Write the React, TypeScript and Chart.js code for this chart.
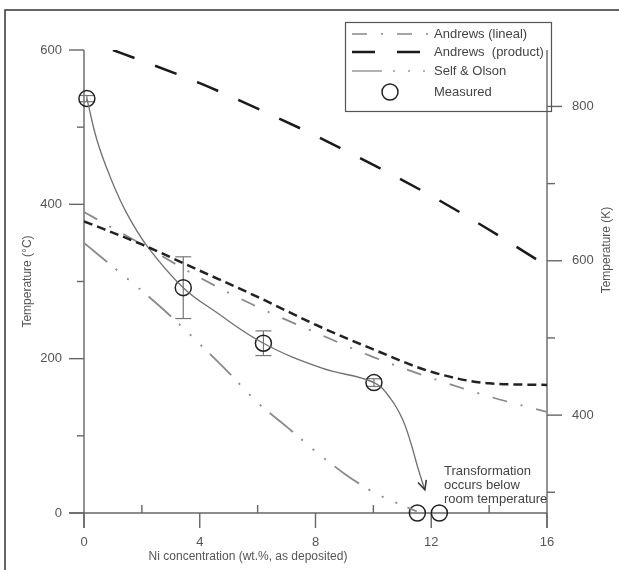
import React, { useEffect, useRef } from 'react';
import { Chart, registerables } from 'chart.js';

Chart.register(...registerables);

const FONT = '"Liberation Sans", Arial, Helvetica, sans-serif';

// ---- data ----
const curveX = [0, 2, 4, 6, 8, 10, 12, 14, 16];
const productX = [1, 2, 4, 6, 8, 10, 12, 14, 16];
const productY = [600, 586, 557, 524, 489, 451, 411, 367, 320];
const upperDashY = [378, 348, 314, 280, 244, 212, 183, 168, 166];
const linealY = [390, 348, 305, 267, 234, 202, 175, 151, 131];
const selfX = [0, 1, 2, 3, 4, 5, 6, 7, 8, 9, 10, 11, 11.5];
const selfY = [350, 319, 288, 255, 219, 182, 143, 112, 80, 51, 27, 10, 2];
const measX = [0.1, 3.43, 6.2, 10.02, 11.52, 12.28];
const measY = [537, 292, 220, 169, 0, 0];
const measErr = [4, 40, 16, 5, 0, 0];
const trendX = [0.1, 0.45, 0.9, 1.47, 2.2, 3.43, 4.5, 6.2, 8.2, 10.02, 10.6, 11.0, 11.3, 11.55, 11.78];
const trendY = [537, 483, 436, 389, 345, 292, 262, 220, 188, 169, 148, 122, 90, 57, 30];

const xMajor = [0, 4, 8, 12, 16];
const xMinor = [2, 6, 10, 14];
const cMajor = [0, 200, 400, 600];
const cMinor = [100, 300, 500];
const kMajor = [400, 600, 800];
const kMinor = [300, 500, 700];

const legendLabels = ['Andrews (lineal)', 'Andrews  (product)', 'Self & Olson', 'Measured'];
const noteLines = ['Transformation', 'occurs below', 'room temperature'];
const xTitle = 'Ni concentration (wt.%, as deposited)';
const yTitle = 'Temperature (\u00b0C)';
const kTitle = 'Temperature (K)';

const KELVIN = 273.15;

const zip = (xs: number[], ys: number[]) => xs.map((x, i) => ({ x, y: ys[i] }));

const DASH_PRODUCT = [23, 22];
const DASH_UPPER = [9, 5];
const DASH_LINEAL = [15, 14, 2, 14];
const DASH_SELF = [30, 11, 2, 13, 2, 13, 2, 11];

const decor = {
  id: 'decor',
  beforeDatasetsDraw(chart: any) {
    const { ctx, chartArea, scales } = chart;
    const { left, right, top, bottom } = chartArea;
    const x = scales.x, y = scales.y, k = scales.yK;
    ctx.save();
    ctx.strokeStyle = '#666';
    ctx.lineWidth = 1.4;
    const ln = (x1: number, y1: number, x2: number, y2: number) => {
      ctx.beginPath(); ctx.moveTo(x1, y1); ctx.lineTo(x2, y2); ctx.stroke();
    };
    ln(left - 15, bottom, right, bottom);
    ln(left, top, left, bottom + 15);
    ln(right, top, right, bottom + 15);
    xMajor.forEach(v => { const p = x.getPixelForValue(v); ln(p, bottom, p, bottom + 15); });
    xMinor.forEach(v => { const p = x.getPixelForValue(v); ln(p, bottom, p, bottom - 8); });
    cMajor.forEach(v => { const p = y.getPixelForValue(v); ln(left - 15, p, left, p); });
    cMinor.forEach(v => { const p = y.getPixelForValue(v); ln(left - 7, p, left, p); });
    kMajor.forEach(v => { const p = k.getPixelForValue(v); ln(right, p, right + 15, p); });
    kMinor.forEach(v => { const p = k.getPixelForValue(v); ln(right, p, right + 8, p); });

    ctx.strokeStyle = '#777';
    ctx.lineWidth = 1.2;
    measX.forEach((mx, i) => {
      const e = measErr[i];
      if (!e) return;
      const px = x.getPixelForValue(mx);
      const hi = y.getPixelForValue(measY[i] + e);
      const lo = y.getPixelForValue(measY[i] - e);
      ln(px, hi, px, lo);
      ln(px - 8, hi, px + 8, hi);
      ln(px - 8, lo, px + 8, lo);
    });
    ctx.restore();
  },
  afterDatasetsDraw(chart: any) {
    const { ctx, scales } = chart;
    const x = scales.x, y = scales.y;
    ctx.save();
    const n = trendX.length;
    const tx = x.getPixelForValue(trendX[n - 1]);
    const ty = y.getPixelForValue(trendY[n - 1]);
    const px = x.getPixelForValue(trendX[n - 2]);
    const py = y.getPixelForValue(trendY[n - 2]);
    const ang = Math.atan2(ty - py, tx - px);
    const L = 10, a = 0.45;
    ctx.strokeStyle = '#333';
    ctx.lineWidth = 1.5;
    ctx.beginPath();
    ctx.moveTo(tx - L * Math.cos(ang - a), ty - L * Math.sin(ang - a));
    ctx.lineTo(tx, ty);
    ctx.lineTo(tx - L * Math.cos(ang + a), ty - L * Math.sin(ang + a));
    ctx.stroke();

    ctx.strokeStyle = '#333';
    ctx.lineWidth = 1.5;
    ctx.beginPath();
    ctx.moveTo(5, 570); ctx.lineTo(5, 10); ctx.lineTo(619, 10);
    ctx.stroke();

    ctx.strokeStyle = '#555';
    ctx.lineWidth = 1.2;
    ctx.strokeRect(345.5, 22.5, 206, 89);
    const rows = [34, 52, 71, 92];
    const samples = [
      { color: '#888', width: 1.6, dash: DASH_LINEAL },
      { color: '#1a1a1a', width: 2.5, dash: DASH_PRODUCT },
      { color: '#999', width: 1.3, dash: DASH_SELF },
    ];
    samples.forEach((s, i) => {
      ctx.strokeStyle = s.color;
      ctx.lineWidth = s.width;
      ctx.setLineDash(s.dash);
      ctx.beginPath(); ctx.moveTo(352, rows[i]); ctx.lineTo(428, rows[i]); ctx.stroke();
    });
    ctx.setLineDash([]);
    ctx.strokeStyle = '#222';
    ctx.lineWidth = 1.5;
    ctx.beginPath(); ctx.arc(390, rows[3], 8, 0, Math.PI * 2); ctx.stroke();
    ctx.fillStyle = '#444';
    ctx.font = `13px ${FONT}`;
    ctx.textAlign = 'left';
    ctx.textBaseline = 'middle';
    legendLabels.forEach((t, i) => ctx.fillText(t, 434, rows[i]));

    noteLines.forEach((t, i) => ctx.fillText(t, 444, 471 + i * 14));

    ctx.fillStyle = '#555';
    ctx.font = `12px ${FONT}`;
    ctx.textAlign = 'center';
    ctx.fillText(xTitle, 248, 557);
    ctx.save();
    ctx.translate(607, 250);
    ctx.rotate(-Math.PI / 2);
    ctx.fillText(kTitle, 0, 0);
    ctx.restore();
    ctx.restore();
  },
};

export default function App() {
  const ref = useRef<HTMLCanvasElement | null>(null);
  useEffect(() => {
    if (!ref.current) return;
    const tickFont = { family: FONT, size: 13 };
    const chart = new Chart(ref.current, {
      type: 'scatter',
      data: {
        datasets: [
          {
            label: legendLabels[1], data: zip(productX, productY), showLine: true,
            borderColor: '#1a1a1a', borderWidth: 2.5, borderDash: DASH_PRODUCT,
            pointRadius: 0, cubicInterpolationMode: 'monotone',
          },
          {
            label: 'upper', data: zip(curveX, upperDashY), showLine: true,
            borderColor: '#222', borderWidth: 2.5, borderDash: DASH_UPPER,
            pointRadius: 0, cubicInterpolationMode: 'monotone',
          },
          {
            label: legendLabels[0], data: zip(curveX, linealY), showLine: true,
            borderColor: '#8a8a8a', borderWidth: 1.8, borderDash: DASH_LINEAL,
            pointRadius: 0, cubicInterpolationMode: 'monotone',
          },
          {
            label: legendLabels[2], data: zip(selfX, selfY), showLine: true,
            borderColor: '#8a8a8a', borderWidth: 1.8, borderDash: DASH_SELF,
            pointRadius: 0, cubicInterpolationMode: 'monotone',
          },
          {
            label: 'trend', data: zip(trendX, trendY), showLine: true,
            borderColor: '#707070', borderWidth: 1.3,
            pointRadius: 0, tension: 0.4, clip: false,
          },
          {
            label: legendLabels[3], data: zip(measX, measY), showLine: false,
            borderColor: '#222', backgroundColor: 'rgba(0,0,0,0)', pointBorderWidth: 1.5,
            pointRadius: 8, pointStyle: 'circle', clip: false,
          },
        ] as any,
      },
      options: {
        responsive: false,
        animation: false,
        events: [],
        devicePixelRatio: 1,
        layout: { padding: { top: 50, left: 0, right: 0, bottom: 0 } },
        plugins: { legend: { display: false }, tooltip: { enabled: false } },
        scales: {
          x: {
            type: 'linear', position: 'bottom', min: 0, max: 16,
            ticks: { stepSize: 4, font: tickFont, color: '#555', padding: 22, maxRotation: 0 },
            grid: { display: false, drawTicks: false },
            border: { display: false },
            afterFit: (s: any) => { s.height = 57; },
          },
          y: {
            type: 'linear', position: 'left', min: 0, max: 600,
            ticks: { stepSize: 200, font: tickFont, color: '#555', padding: 22 },
            grid: { display: false, drawTicks: false },
            border: { display: false },
            title: { display: true, text: yTitle, color: '#555', font: { family: FONT, size: 12 }, padding: { top: 20, bottom: 0 } },
            afterFit: (s: any) => { s.width = 84; },
          },
          yK: {
            type: 'linear', position: 'right', min: KELVIN, max: 600 + KELVIN,
            afterBuildTicks: (s: any) => { s.ticks = kMajor.map(v => ({ value: v })); },
            ticks: { font: tickFont, color: '#555', padding: 25 },
            grid: { display: false, drawTicks: false },
            border: { display: false },
            afterFit: (s: any) => { s.width = 72; },
          },
        },
      } as any,
      plugins: [decor],
    });
    return () => chart.destroy();
  }, []);
  return (
    <div style={{ position: 'fixed', left: 0, top: 0, width: 619, height: 570, background: '#fff' }}>
      <canvas ref={ref} width={619} height={570} style={{ display: 'block' }} />
    </div>
  );
}
